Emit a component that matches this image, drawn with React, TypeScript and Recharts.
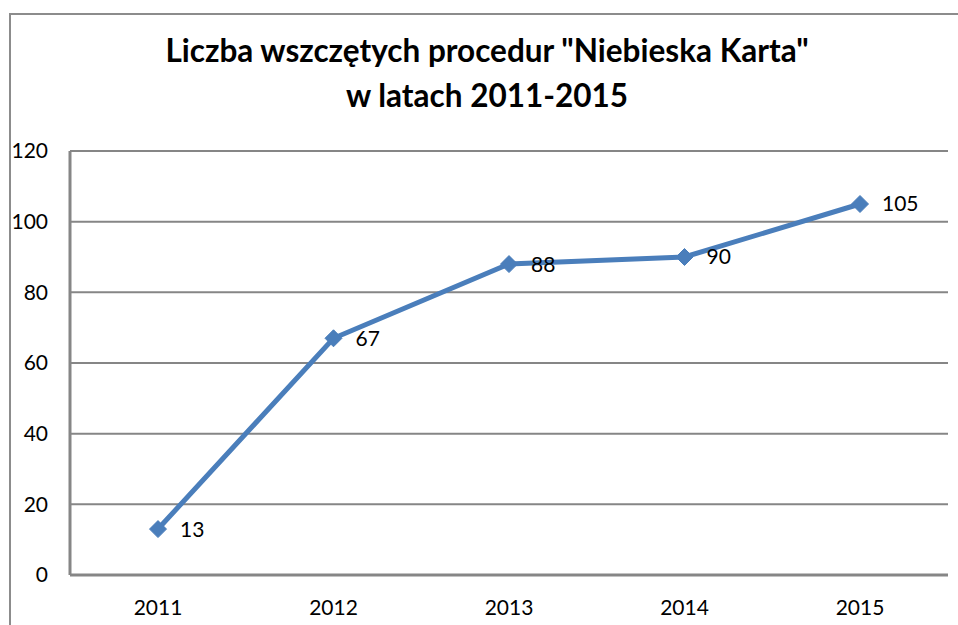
import { LineChart, Line, XAxis, YAxis, CartesianGrid, LabelList } from 'recharts';

const years = ['2011', '2012', '2013', '2014', '2015'];
const procedures = [13, 67, 88, 90, 105];
const yTicks = [0, 20, 40, 60, 80, 100, 120];

const data = years.map((year, i) => ({ year, value: procedures[i] }));

const BLUE = '#4A7EBB';
const GRID = '#868686';
const FONT = 'Lato, "Noto Sans", sans-serif';

// diamond marker like the Excel one
const Diamond = (props: any) => {
  const { cx, cy } = props;
  if (cx == null || cy == null) return null;
  const r = 8.5;
  return (
    <path
      d={`M${cx},${cy - r} L${cx + r},${cy} L${cx},${cy + r} L${cx - r},${cy} Z`}
      fill={BLUE}
      stroke={BLUE}
    />
  );
};

export default function App() {
  return (
    <div
      style={{
        position: 'fixed',
        left: 0,
        top: 0,
        width: 958,
        height: 625,
        overflow: 'hidden',
        background: '#fff',
        fontFamily: FONT,
      }}
    >
      <div
        style={{
          position: 'absolute',
          left: 9,
          top: 13,
          width: 1100,
          height: 800,
          border: '2px solid #8c8c8c',
        }}
      />
      <div
        style={{
          position: 'absolute',
          left: 0,
          top: 28,
          width: 974,
          textAlign: 'center',
          fontWeight: 700,
          fontSize: 31.5,
          lineHeight: '45px',
          color: '#000',
        }}
      >
        Liczba wszczętych procedur "Niebieska Karta"
        <br />
        w latach 2011-2015
      </div>
      <div style={{ position: 'absolute', left: 0, top: 0 }}>
        <LineChart
          width={958}
          height={625}
          data={data}
          margin={{ top: 151, right: 10, bottom: 10, left: 0 }}
        >
          <CartesianGrid vertical={false} stroke={GRID} strokeWidth={2} />
          <XAxis
            dataKey="year"
            height={40}
            padding={{ left: 88, right: 88 }}
            tickLine={false}
            tickSize={0}
            tickMargin={25}
            axisLine={{ stroke: GRID, strokeWidth: 3 }}
            tick={{ fill: '#000', fontSize: 21, fontFamily: FONT }}
          />
          <YAxis
            width={70}
            domain={[0, 120]}
            ticks={yTicks}
            tickLine={false}
            tickSize={0}
            tickMargin={22}
            axisLine={{ stroke: GRID, strokeWidth: 3 }}
            tick={{ fill: '#000', fontSize: 21, fontFamily: FONT }}
          />
          <Line
            type="linear"
            dataKey="value"
            stroke={BLUE}
            strokeWidth={5}
            dot={<Diamond />}
            activeDot={false}
            isAnimationActive={false}
          >
            <LabelList
              dataKey="value"
              position="right"
              offset={22}
              fill="#000"
              fontSize={21}
              fontFamily={FONT}
            />
          </Line>
        </LineChart>
      </div>
    </div>
  );
}
